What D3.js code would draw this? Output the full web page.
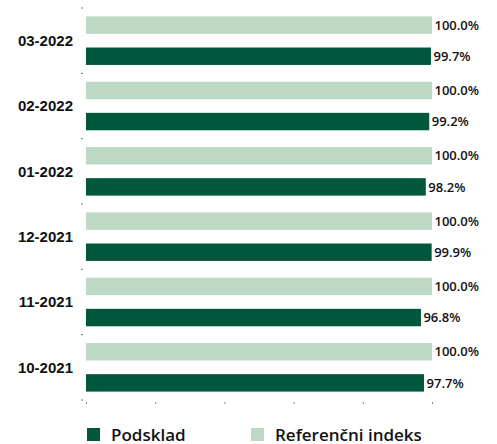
<!DOCTYPE html>
<html>
<head>
<meta charset="utf-8">
<script src="https://cdn.jsdelivr.net/npm/d3@7"></script>
<style>
  body { margin: 0; background: #fff; }
  .tick line { stroke: #888; }
</style>
</head>
<body>
<div id="chart"></div>
<script>
const width = 497;
const height = 444;
const margin = {top: 8, right: 65, bottom: 44, left: 86};

const months = ["03-2022", "02-2022", "01-2022", "12-2021", "11-2021", "10-2021"];
const referenceValues = [100.0, 100.0, 100.0, 100.0, 100.0, 100.0];
const subfundValues = [99.7, 99.2, 98.2, 99.9, 96.8, 97.7];
const seriesNames = ["Referenčni indeks", "Podsklad"];
const colors = {"Referenčni indeks": "#bdd9c6", "Podsklad": "#00573c"};

const rows = months.map((m, i) => ({
    month: m,
    "Referenčni indeks": referenceValues[i],
    "Podsklad": subfundValues[i]
}));

const svg = d3.select("#chart").append("svg")
    .attr("width", width)
    .attr("height", height);

const x = d3.scaleLinear()
    .domain([0, 100])
    .range([margin.left, margin.left + 346]);

const y = d3.scaleBand()
    .domain(months)
    .range([margin.top, 400])
    .paddingInner(0)
    .paddingOuter(0);

const ySub = d3.scaleBand()
    .domain(seriesNames)
    .range([0, y.bandwidth()])
    .paddingInner(0.44)
    .paddingOuter(0.27);

// axes (no domain lines, only small ticks)
const xAxis = svg.append("g")
    .attr("transform", `translate(0, 402)`)
    .call(d3.axisBottom(x).tickValues([0, 20, 40, 60, 80, 100]).tickSize(2).tickFormat(""));
xAxis.select(".domain").remove();

// tick marks at band borders
svg.append("g")
    .selectAll("line")
    .data(months.concat(["end"]))
    .join("line")
    .attr("x1", margin.left - 5)
    .attr("x2", margin.left - 3)
    .attr("y1", (d, i) => i < months.length ? y(d) : y.range()[1])
    .attr("y2", (d, i) => i < months.length ? y(d) : y.range()[1])
    .attr("stroke", "#777")
    .attr("stroke-width", 1);

// category labels
svg.append("g")
    .selectAll("text")
    .data(months)
    .join("text")
    .attr("x", 73)
    .attr("y", d => y(d) + y.bandwidth() / 2)
    .attr("dy", "0.35em")
    .attr("text-anchor", "end")
    .style("font-family", "Liberation Sans, Arial, sans-serif")
    .style("font-weight", "bold")
    .style("font-size", "15px")
    .style("fill", "#111")
    .text(d => d);

// bars
const groups = svg.append("g")
    .selectAll("g")
    .data(rows)
    .join("g")
    .attr("transform", d => `translate(0, ${y(d.month)})`);

groups.selectAll("rect")
    .data(d => seriesNames.map(s => ({key: s, value: d[s]})))
    .join("rect")
    .attr("x", x(0))
    .attr("y", d => ySub(d.key))
    .attr("width", d => x(d.value) - x(0))
    .attr("height", ySub.bandwidth())
    .attr("fill", d => colors[d.key]);

groups.selectAll("text")
    .data(d => seriesNames.map(s => ({key: s, value: d[s]})))
    .join("text")
    .attr("x", d => x(d.value) + 2.5)
    .attr("y", d => ySub(d.key) + ySub.bandwidth() / 2)
    .attr("dy", "0.36em")
    .style("font-family", "Open Sans, sans-serif")
    .style("font-weight", "600")
    .style("font-size", "13px")
    .style("fill", "#111")
    .text(d => d.value.toFixed(1) + "%");

// legend
const legendItems = [
    {name: "Podsklad", x: 87},
    {name: "Referenčni indeks", x: 251}
];
const legend = svg.append("g")
    .selectAll("g")
    .data(legendItems)
    .join("g")
    .attr("transform", d => `translate(${d.x}, 428)`);

legend.append("rect")
    .attr("width", 13)
    .attr("height", 13)
    .attr("fill", d => colors[d.name]);

legend.append("text")
    .attr("x", 24)
    .attr("y", 12.5)
    .style("font-family", "Open Sans, sans-serif")
    .style("font-weight", "600")
    .style("font-size", "17px")
    .style("fill", "#111")
    .text(d => d.name);
</script>
</body>
</html>
